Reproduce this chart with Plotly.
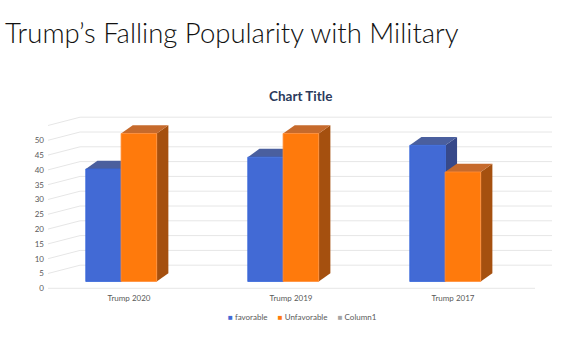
import plotly.graph_objects as go

# Poll results by survey year
categories = ["Trump 2020", "Trump 2019", "Trump 2017"]
favorable = [38, 42, 46]
unfavorable = [50, 50, 37]
series_names = ["favorable", "Unfavorable", "Column1"]
y_ticks = list(range(0, 55, 5))
wall_levels = list(range(5, 60, 5))

# Colours
BLUE_FRONT, BLUE_TOP, BLUE_SIDE = "#426AD5", "#4A5F9E", "#37498A"
ORANGE_FRONT, ORANGE_TOP, ORANGE_SIDE = "#FF7A0C", "#C66A2C", "#A5500F"
GREY = "#A5A5A5"
GRID = "#E6E6E6"
TEXT = "#595959"

# 3-D box geometry (x in category units, y in value units)
BAR_W = 0.22
FAV_OFF = -0.267
UNF_OFF = -0.049
DEPTH_X = 0.072
DEPTH_Y = 2.8
BASE = -0.5
WALL_LEFT, FRONT_LEFT = -0.302, -0.5
WALL_RIGHT, FLOOR_RIGHT = 2.611, 2.506
Y_RANGE = [-4.054, 57.432]

xpos = list(range(len(categories)))

fig = go.Figure()

fig.add_trace(go.Bar(
    x=xpos, y=favorable, base=BASE, offset=FAV_OFF, width=BAR_W,
    name=series_names[0], marker=dict(color=BLUE_FRONT, line=dict(color="#3566DA", width=0.8)),
    showlegend=False,
))
fig.add_trace(go.Bar(
    x=xpos, y=unfavorable, base=BASE, offset=UNF_OFF, width=BAR_W,
    name=series_names[1], marker=dict(color=ORANGE_FRONT, line=dict(color="#FF8E3A", width=0.8)),
    showlegend=False,
))
# carries the front-plane value axis
fig.add_trace(go.Scatter(x=[None], y=[None], yaxis="y2", showlegend=False, hoverinfo="skip"))

shapes = []


def seg(x0, y0, x1, y1, color=GRID):
    shapes.append(dict(type="line", xref="x", yref="y", x0=x0, y0=y0, x1=x1, y1=y1,
                       line=dict(color=color, width=1), layer="below"))


# back wall, side wall and floor edge
for v in wall_levels:
    seg(WALL_LEFT, v, WALL_RIGHT, v)
    seg(FRONT_LEFT, v - DEPTH_Y, WALL_LEFT, v)
seg(FRONT_LEFT, -DEPTH_Y, FLOOR_RIGHT, -DEPTH_Y)


def faces(i, off, v, top_col, side_col):
    x0 = i + off
    x1 = x0 + BAR_W
    top = BASE + v
    top_path = (f"M{x0},{top} L{x1},{top} L{x1 + DEPTH_X},{top + DEPTH_Y} "
                f"L{x0 + DEPTH_X},{top + DEPTH_Y} Z")
    side_path = (f"M{x1},{BASE} L{x1 + DEPTH_X},{BASE + DEPTH_Y} "
                 f"L{x1 + DEPTH_X},{top + DEPTH_Y} L{x1},{top} Z")
    for p, c in ((side_path, side_col), (top_path, top_col)):
        shapes.append(dict(type="path", path=p, xref="x", yref="y", fillcolor=c,
                           line=dict(width=0), layer="below"))


for i in xpos:
    faces(i, FAV_OFF, favorable[i], BLUE_TOP, BLUE_SIDE)
for i in xpos:
    faces(i, UNF_OFF, unfavorable[i], ORANGE_TOP, ORANGE_SIDE)

legend_text = "     ".join(
    f"<span style='color:{c}'>■</span> {n}"
    for c, n in zip([BLUE_FRONT, ORANGE_FRONT, GREY], series_names)
)

small = dict(family="Lato, sans-serif", size=8, color=TEXT)

fig.update_layout(
    width=570, height=342,
    margin=dict(l=48, r=18, t=110, b=50),
    paper_bgcolor="white", plot_bgcolor="white",
    barmode="overlay",
    shapes=shapes,
    title=dict(text="Trump’s Falling Popularity with Military",
               xref="container", yref="container", x=5 / 570, xanchor="left",
               y=1 - 33 / 342, yanchor="middle",
               font=dict(family="Lato, sans-serif", size=27.5, weight=300, color="#111111")),
    xaxis=dict(range=[FRONT_LEFT, WALL_RIGHT], tickvals=xpos, ticktext=categories,
               showgrid=False, zeroline=False, showline=False, ticks="", tickfont=small),
    yaxis=dict(range=Y_RANGE, visible=False),
    yaxis2=dict(range=[Y_RANGE[0] + DEPTH_Y, Y_RANGE[1] + DEPTH_Y], overlaying="y", side="left",
                tickvals=y_ticks, showgrid=False, zeroline=False, showline=False, ticks="",
                tickfont=small, ticklabelstandoff=3),
    annotations=[
        dict(text="<b>Chart Title</b>", xref="paper", yref="paper", x=0.5016, y=1.0758,
             xanchor="center", yanchor="middle", showarrow=False,
             font=dict(family="Lato, sans-serif", size=13.5, color="#2B3A5C")),
        dict(text=legend_text, xref="paper", yref="paper", x=0.504, y=-0.139,
             xanchor="center", yanchor="middle", showarrow=False, font=small),
    ],
    showlegend=False,
)

fig.write_html("out.html")
